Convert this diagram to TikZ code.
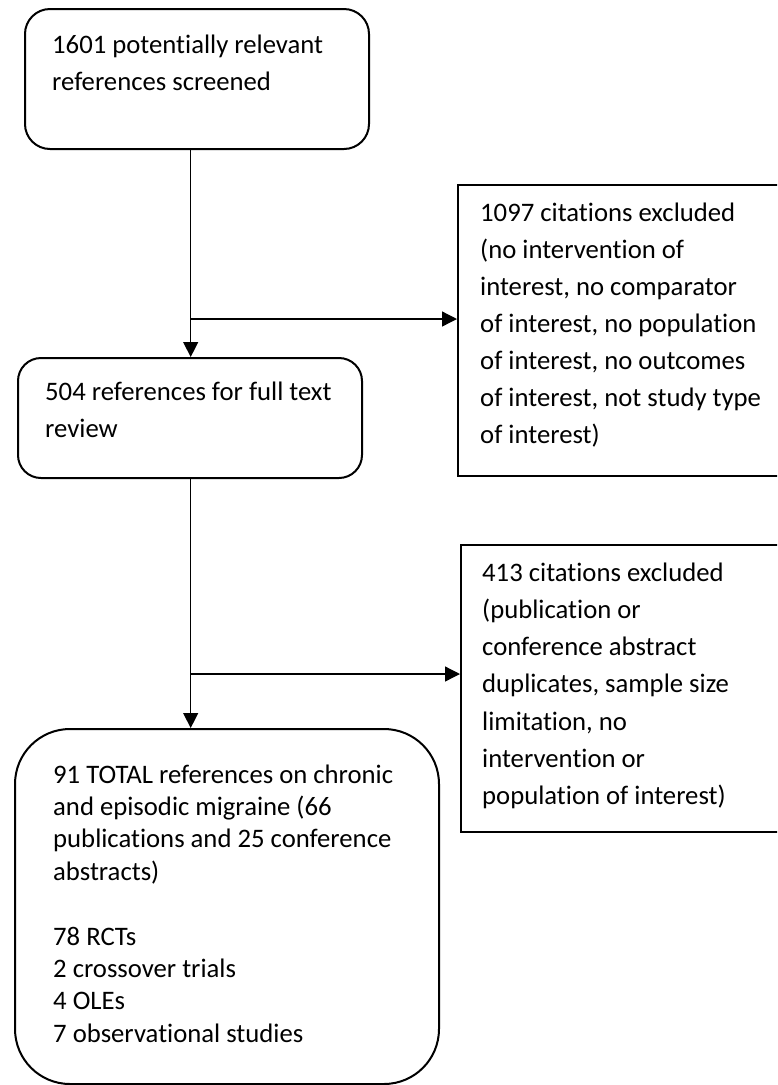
\documentclass[tikz,border=0pt]{standalone}
\usepackage{fontspec}
\setmainfont{Carlito}[Ligatures=NoCommon, RawFeature={-liga,-clig,-calt,-dlig}]
\usetikzlibrary{arrows.meta}

% keep "t" and "i" as separate glyphs (no ti ligature)
\XeTeXinterchartokenstate=1
\newXeTeXintercharclass\tletterclass
\newXeTeXintercharclass\iletterclass
\XeTeXcharclass`t=\tletterclass
\XeTeXcharclass`i=\iletterclass
\XeTeXinterchartoks\tletterclass\iletterclass={\kern0pt }

% multi-line box text: baseline of the node = baseline of the first line
\newcommand{\boxlines}[2]{\parbox[t]{600pt}{\fontsize{26.7}{#1}\selectfont\raggedright #2}}

\begin{document}
\begin{tikzpicture}[x=1pt,y=-1pt,
  roundbox/.style={draw, line width=2pt, rounded corners=#1, anchor=north west,
                   inner sep=0pt},
  squarebox/.style={draw, line width=2.2pt, anchor=north west, inner sep=0pt},
  label text/.style={anchor=base west, inner sep=0pt},
  link/.style={line width=1.3pt, -{Triangle[length=15pt,width=15pt]}}]

\useasboundingbox (0,0) rectangle (777,1085);
\clip (0,0) rectangle (777,1085);

% boxes
\node[roundbox=25pt, minimum width=344pt, minimum height=140pt] (screen) at (24,8) {};
\node[roundbox=23pt, minimum width=344pt, minimum height=120pt] (fulltext) at (17,357) {};
\node[roundbox=55pt, minimum width=424pt, minimum height=355pt] (total) at (14,728) {};
\node[squarebox, minimum width=340pt, minimum height=291pt] (excl1) at (457,184) {};
\node[squarebox, minimum width=340pt, minimum height=287pt] (excl2) at (460,544) {};

% box texts
\node[label text] (screen text) at (52,53)
  {\boxlines{37pt}{1601 potentially relevant\\references screened}};
\node[label text] (fulltext text) at (45,400)
  {\boxlines{37pt}{504 references for full text\\review}};
\node[label text] (excl1 text) at (480,221)
  {\boxlines{37pt}{1097 citations excluded\\(no intervention of\\interest, no comparator\\of interest, no population\\of interest, no outcomes\\of interest, not study type\\of interest)}};
\node[label text] (excl2 text) at (482,581)
  {\boxlines{37.3pt}{413 citations excluded\\(publication or\\conference abstract\\duplicates, sample size\\limitation, no\\intervention or\\population of interest)}};
\node[label text] (total text) at (53,783)
  {\boxlines{32.4pt}{91 TOTAL references on chronic\\and episodic migraine (66\\publications and 25 conference\\abstracts)\\[32.4pt]78 RCTs\\2 crossover trials\\4 OLEs\\7 observational studies}};

% connectors
\coordinate (split1) at (190.7,319);
\coordinate (split2) at (190.7,674);

\draw[link] (split1 |- screen.south) -- (split1 |- fulltext.north);
\draw[link] (split1) -- (split1 -| excl1.west);
\draw[link] (split2 |- fulltext.south) -- (split2 |- total.north);
\draw[link] (split2) -- (split2 -| excl2.west);

\end{tikzpicture}
\end{document}
